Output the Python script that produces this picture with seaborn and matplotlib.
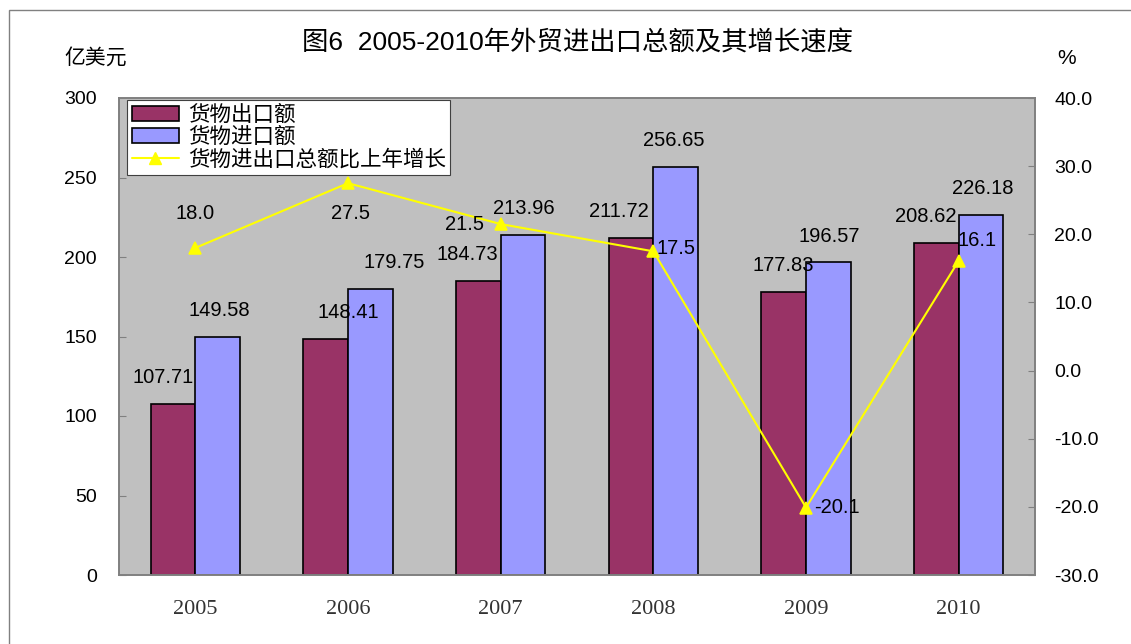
import pandas as pd
import matplotlib.pyplot as plt
import seaborn as sns
from matplotlib.patches import Patch, Rectangle
from matplotlib.lines import Line2D
from matplotlib.ticker import FixedLocator, FormatStrFormatter

# Data
years = ['2005', '2006', '2007', '2008', '2009', '2010']
exports = [107.71, 148.41, 184.73, 211.72, 177.83, 208.62]
imports = [149.58, 179.75, 213.96, 256.65, 196.57, 226.18]
growth = [18.0, 27.5, 21.5, 17.5, -20.1, 16.1]
series_names = ['货物出口额', '货物进口额', '货物进出口总额比上年增长']

# label nudges in points (styling only)
export_dx = [-7, 16, -8, -9, 0, -8]
import_dx = [1, 17, 1, -1, 1, 1]
growth_off = [(0, 25), (2, -22), (-26, 0), (16, 2), (22, 0), (13, 15)]

sns.set_style("white")
plt.rcParams['font.family'] = ['Liberation Sans', 'Noto Sans CJK SC', 'DejaVu Sans']
plt.rcParams['axes.unicode_minus'] = False
plt.rcParams['text.color'] = 'black'
plt.rcParams['xtick.color'] = 'black'
plt.rcParams['ytick.color'] = 'black'

df = pd.DataFrame({
    'year': years * 2,
    'value': exports + imports,
    'type': [series_names[0]] * 6 + [series_names[1]] * 6,
})
df_growth = pd.DataFrame({'year': years, 'growth': growth})

exp_color = '#993366'
imp_color = '#9999FF'
line_color = '#FFFF00'
spine_color = '#808080'

fig = plt.figure(figsize=(11.31, 6.44), dpi=100)
ax = fig.add_axes([119 / 1131, 69 / 644, 916 / 1131, 477 / 644])
ax.set_facecolor('#C0C0C0')

sns.barplot(data=df, x='year', y='value', hue='type', palette=[exp_color, imp_color],
            width=0.583, saturation=1, edgecolor='black', linewidth=1.2,
            legend=False, ax=ax)
ax.set_ylim(0, 300)
ax.set_xlim(-0.5, 5.5)
ax.set_yticks(range(0, 301, 50))
ax.set_xlabel('')
ax.set_ylabel('')

# bar value labels
for i, c in enumerate(ax.containers):
    dxs = export_dx if i == 0 else import_dx
    for bar, dx in zip(c, dxs):
        h = bar.get_height()
        ax.annotate(f'{h:.2f}', (bar.get_x() + bar.get_width() / 2, h),
                    xytext=(dx, 19), textcoords='offset points',
                    ha='center', va='center', fontsize=14.5)

ax2 = ax.twinx()
sns.pointplot(data=df_growth, x='year', y='growth', ax=ax2, color=line_color,
              markers='^', linestyles='-', errorbar=None, markersize=9,
              linewidth=1.5)
ax2.set_ylim(-30, 40)
ax2.set_yticks(range(-30, 41, 10))
ax2.yaxis.set_major_formatter(FormatStrFormatter('%.1f'))
ax2.set_ylabel('')
ax2.set_xlim(-0.5, 5.5)

for i, g in enumerate(growth):
    ax2.annotate(f'{g:.1f}', (i, g), xytext=growth_off[i], textcoords='offset points',
                 ha='center', va='center', fontsize=14.5)

# axes styling
for a in (ax, ax2):
    for s in a.spines.values():
        s.set_color(spine_color)
        s.set_linewidth(1.2)

ax.tick_params(axis='y', direction='in', length=5, color=spine_color, pad=16,
               labelsize=14)
ax2.tick_params(axis='y', direction='in', length=5, color=spine_color, pad=14,
                labelsize=14)
ax.tick_params(axis='x', which='major', length=0, pad=18, labelsize=16,
               labelcolor='#333333')
ax.xaxis.set_minor_locator(FixedLocator([0.5, 1.5, 2.5, 3.5, 4.5]))
ax.tick_params(axis='x', which='minor', direction='in', length=5, color=spine_color)
for lbl in ax.get_xticklabels():
    lbl.set_family(['Liberation Serif', 'DejaVu Serif'])

# legend
handles = [
    Patch(facecolor=exp_color, edgecolor='black', linewidth=1.2),
    Patch(facecolor=imp_color, edgecolor='black', linewidth=1.2),
    Line2D([], [], color=line_color, marker='^', markersize=9, linewidth=1.5),
]
leg = ax2.legend(handles, series_names, loc='upper left',
                 bbox_to_anchor=(8 / 916, 0.996), borderaxespad=0,
                 fontsize=15.5, frameon=True, fancybox=False, framealpha=1,
                 facecolor='white', handlelength=2.2, handletextpad=0.4,
                 labelspacing=0.06, borderpad=0.22)
leg.get_frame().set_edgecolor('#404040')
leg.get_frame().set_linewidth(0.8)

# titles and unit labels
fig.text(577 / 1131, 1 - 43 / 644, '图6  2005-2010年外贸进出口总额及其增长速度',
         ha='center', va='center', fontsize=19)
fig.text(96 / 1131, 1 - 58 / 644, '亿美元', ha='center', va='center', fontsize=15)
fig.text(1067 / 1131, 1 - 58 / 644, '%', ha='center', va='center', fontsize=15)

# outer frame
fig.patches.append(Rectangle((9 / 1131, -0.1), 1.2, 1.1 - 10 / 644,
                             transform=fig.transFigure, fill=False,
                             edgecolor=spine_color, linewidth=1))

fig.savefig('out.png', dpi=100)
